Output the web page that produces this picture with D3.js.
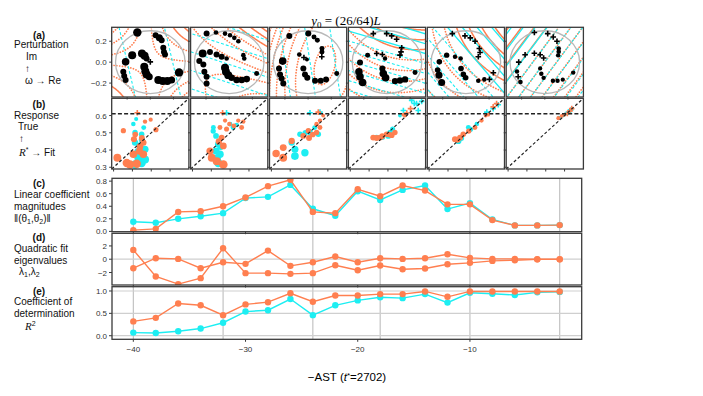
<!DOCTYPE html>
<html><head><meta charset="utf-8">
<script src="https://cdn.jsdelivr.net/npm/d3@7"></script>
<style>body{margin:0;background:#fff}svg{display:block}text{font-family:"Liberation Sans",Arial,sans-serif}</style>
</head><body><svg id="c" width="703" height="396"></svg>
<script>
// ---------------- data ----------------
const times = [-40,-38,-36,-34,-32,-30,-28,-26,-24,-22,-20,-18,-16,-14,-12,-10,-8,-6,-4,-2];
const linNorm  = [0.154,0.138,0.20,0.24,0.29,0.53,0.55,0.74,0.36,0.25,0.64,0.50,0.66,0.73,0.355,0.45,0.19,0.095,0.095,0.10];
const quadNorm = [0.02,0.04,0.31,0.32,0.40,0.54,0.72,0.82,0.31,0.29,0.67,0.56,0.73,0.65,0.43,0.43,0.18,0.095,0.095,0.10];
const eigA = [1.4,-2.6,-3.75,-2.85,1.65,-2.1,-2.1,-2.2,-2.1,-0.9,-1.65,-0.95,-1.5,-1.4,-0.75,-0.55,-0.25,-0.15,-0.02,-0.02];
const eigB = [-1.35,0.15,0.05,-1.35,-0.45,-0.7,1.3,-1.0,-0.45,0.4,-0.45,0.15,0.05,0.15,0.75,0.2,0.05,0.05,0,0];
const linR2  = [0.07,0.06,0.10,0.16,0.29,0.54,0.57,0.82,0.46,0.68,0.79,0.86,0.84,0.93,0.74,0.96,0.94,0.91,0.97,0.98];
const quadR2 = [0.32,0.40,0.72,0.68,0.46,0.70,0.75,0.95,0.76,0.90,0.90,0.93,0.93,0.99,0.87,0.99,0.99,0.99,0.99,0.99];
const gridTimes = [-40,-32,-24,-18,-10,-2];
const panelTimes = [-40,-32,-24,-18,-10,-2];
const R_STAR = 0.61;

// fit models shown as contours in row (a)
const linAngle = [12,70,8,72,38,146];
const linStep  = [0.059,0.048,0.077,0.045,0.045,0.0085];
const linBase  = [0.522,0.472,0.450,0.52,0.574,0.593];
const quadGradAngle = [45,65,-12,72,38,146];
const quadEigAngle  = [45,45,-12,-18,-52,146];
const quadStep = [0.045,0.06,0.05,0.06,0.05,0.0085];
const quadBase = [0.51,0.41,0.545,0.52,0.574,0.593];

// perturbations [Re, Im, true response]
const pert = [
 [[-0.112,0.283,0.324],[0.046,0.257,0.467],[0.078,0.232,0.407],[0.098,0.21,0.467],[0.112,0.137,0.467],[0.118,0.098,0.467],[0.127,0.073,0.467],[-0.156,0.067,0.348],[-0.072,0.083,0.348],[-0.049,0.06,0.348],[-0.032,0.035,0.467],[0,0.003,0.616],[-0.213,0.003,0.372],[-0.233,-0.092,0.467],[-0.225,-0.133,0.467],[-0.213,-0.171,0.467],[-0.052,-0.044,0.348],[-0.043,-0.086,0.348],[-0.032,-0.117,0.348],[-0.009,-0.14,0.407],[0.069,-0.171,0.348],[0.107,-0.181,0.348],[0.147,-0.181,0.348],[0.184,-0.171,0.407],[0.248,-0.098,0.324]],
 [[-0.195,0.273,0.467],[-0.114,0.283,0.55],[-0.036,0.273,0.55],[0.007,0.257,0.55],[0.044,0.232,0.55],[0.079,0.2,0.55],[0.122,0.067,0.55],[0.13,0.035,0.55],[-0.229,0.083,0.348],[-0.166,0.098,0.467],[-0.109,0.073,0.467],[-0.065,0.051,0.467],[-0.022,0.035,0.55],[-0.258,0.01,0.467],[-0.223,-0.022,0.467],[-0.214,-0.092,0.467],[-0.195,-0.14,0.467],[-0.195,-0.203,0.467],[-0.036,-0.054,0.348],[-0.028,-0.092,0.348],[-0.008,-0.124,0.348],[0.021,-0.149,0.431],[0.064,-0.171,0.431],[0.108,-0.171,0.431],[0.151,-0.162,0.431],[0.237,-0.108,0.527]],
 [[-0.162,0.251,0.467],[0.002,0.273,0.467],[0.051,0.241,0.527],[0.08,0.21,0.527],[0.12,0.13,0.527],[0.12,0.098,0.527],[0.118,0.051,0.62],[-0.076,0.073,0.55],[-0.036,0.044,0.62],[-0.01,0.025,0.587],[-0.219,0.01,0.372],[-0.251,-0.06,0.467],[-0.242,-0.117,0.467],[-0.228,-0.156,0.467],[-0.214,-0.203,0.467],[-0.041,-0.06,0.467],[-0.027,-0.117,0.467],[-0.007,-0.149,0.467],[0.06,-0.178,0.467],[0.109,-0.178,0.467],[0.155,-0.165,0.467],[0.247,-0.108,0.527]],
 [[-0.118,0.273,0.65],[-0.003,0.273,0.65],[0.04,0.251,0.65],[0.083,0.219,0.65],[0.127,0.137,0.65],[0.121,0.098,0.65],[0.112,0.067,0.65],[-0.167,0.067,0.527],[-0.089,0.083,0.63],[-0.04,0.073,0.63],[-0.017,0.035,0.562],[-0.233,-0.003,0.467],[-0.242,-0.092,0.372],[-0.233,-0.14,0.372],[-0.21,-0.194,0.372],[-0.04,-0.06,0.467],[-0.032,-0.108,0.372],[-0.012,-0.149,0.372],[0.069,-0.181,0.443],[0.112,-0.175,0.443],[0.156,-0.165,0.443],[0.242,-0.098,0.527]],
 [[-0.117,0.273,0.65],[-0.008,0.251,0.65],[0.038,0.232,0.65],[0.079,0.2,0.65],[0.116,0.13,0.65],[0.122,0.092,0.65],[0.107,0.051,0.65],[-0.166,0.067,0.503],[-0.094,0.051,0.562],[-0.045,0.035,0.562],[-0.229,0.003,0.491],[-0.244,-0.076,0.491],[-0.232,-0.124,0.407],[-0.209,-0.194,0.407],[-0.042,-0.06,0.491],[-0.022,-0.117,0.491],[-0.002,-0.149,0.491],[0.107,-0.178,0.55],[0.159,-0.165,0.55],[0.203,-0.165,0.62],[0.237,-0.102,0.62]],
 [[-0.09,0.283,0.63],[0.025,0.273,0.63],[0.073,0.241,0.63],[0.105,0.2,0.63],[0.12,0.13,0.55],[0.12,0.1,0.55],[0.115,0.065,0.56],[-0.17,0.07,0.63],[-0.09,0.085,0.63],[-0.04,0.07,0.63],[-0.01,0.04,0.63],[-0.225,0.0,0.63],[-0.24,-0.09,0.56],[-0.23,-0.14,0.63],[-0.21,-0.19,0.55],[-0.04,-0.06,0.57],[-0.03,-0.11,0.56],[-0.01,-0.15,0.56],[0.07,-0.178,0.56],[0.11,-0.178,0.56],[0.155,-0.168,0.57],[0.245,-0.1,0.56]]
];

// row (b): [fit, true]
const bLin = [
 [[0.405,0.551],[0.414,0.502],[0.449,0.492],[0.414,0.443],[0.44,0.424],[0.467,0.404],[0.431,0.355],[0.449,0.325],[0.414,0.316],[0.467,0.345],[0.42,0.58],[0.46,0.53],[0.45,0.46],[0.43,0.39]],
 [[0.411,0.531],[0.425,0.482],[0.437,0.433],[0.481,0.616],[0.516,0.531],[0.534,0.545],[0.425,0.394],[0.446,0.375],[0.437,0.325],[0.41,0.51],[0.45,0.42],[0.5,0.55],[0.43,0.35]],
 [[0.505,0.616],[0.558,0.62],[0.452,0.492],[0.505,0.502],[0.549,0.492],[0.425,0.404],[0.425,0.365],[0.478,0.384],[0.408,0.443],[0.48,0.5],[0.53,0.53],[0.5,0.51]],
 [[0.44,0.472],[0.502,0.482],[0.525,0.522],[0.564,0.6],[0.626,0.688],[0.652,0.669],[0.679,0.682],[0.661,0.629],[0.582,0.629],[0.47,0.475],[0.51,0.5],[0.64,0.67]],
 [[0.455,0.453],[0.508,0.531],[0.553,0.551],[0.606,0.62],[0.667,0.663],[0.47,0.47],[0.52,0.52],[0.64,0.64]],
 [[0.57,0.587],[0.59,0.6],[0.605,0.609],[0.62,0.62],[0.633,0.632]]
];
const bQuad = [
 [[0.352,0.512],[0.467,0.565],[0.497,0.576],[0.525,0.518],[0.408,0.463],[0.458,0.443],[0.437,0.394],[0.458,0.375],[0.405,0.375],[0.32,0.355],[0.37,0.325],[0.387,0.316],[0.423,0.321],[0.426,0.616],[0.44,0.42],[0.45,0.47],[0.415,0.49]],
 [[0.46,0.616],[0.473,0.571],[0.496,0.551],[0.543,0.571],[0.57,0.565],[0.561,0.531],[0.481,0.522],[0.446,0.531],[0.455,0.472],[0.464,0.424],[0.393,0.394],[0.402,0.355],[0.429,0.335],[0.464,0.316],[0.52,0.54],[0.44,0.45]],
 [[0.549,0.62],[0.558,0.571],[0.496,0.512],[0.54,0.502],[0.558,0.531],[0.469,0.482],[0.408,0.453],[0.363,0.414],[0.325,0.38],[0.363,0.355],[0.52,0.49],[0.5,0.47],[0.54,0.55],[0.575,0.6]],
 [[0.422,0.472],[0.458,0.472],[0.493,0.492],[0.52,0.486],[0.537,0.502],[0.582,0.605],[0.6,0.615],[0.62,0.64],[0.47,0.48],[0.44,0.47],[0.505,0.49],[0.59,0.6]],
 [[0.437,0.463],[0.464,0.472],[0.481,0.492],[0.543,0.531],[0.578,0.571],[0.614,0.605],[0.658,0.669],[0.45,0.46],[0.51,0.51],[0.6,0.6],[0.64,0.65]],
 [[0.567,0.585],[0.585,0.598],[0.60,0.605],[0.615,0.612],[0.628,0.626],[0.638,0.64]]
];

// ---------------- drawing ----------------
const ORANGE = "#FF7F50", CYAN = "#1DEEF2", FRAME = "#3a3a3a";
const svg = d3.select("#c");
const defs = svg.append("defs");
const colX = i => 111.7 + i * 78.9, colW = 77.2;
const rowA = [27.3, 97], rowB = [98.3, 169];
const aDom = [-0.333, 0.333], bDom = [0.29, 0.70];
const rScale = d3.scaleLinear().domain([0.30, R_STAR]).range([4.4, 1.8]).clamp(true);
const fmtMinus = d3.format(".1f");

function mark(g, cx, cy, t, color, ps) {
  if (t >= R_STAR) {
    g.append("path").attr("d", `M${cx-ps},${cy}H${cx+ps}M${cx},${cy-ps}V${cy+ps}`)
      .attr("stroke", color).attr("stroke-width", 1.6).attr("fill", "none");
  } else {
    g.append("circle").attr("cx", cx).attr("cy", cy).attr("r", rScale(t)).attr("fill", color);
  }
}

function frame(x0, y0, w, h) {
  svg.append("rect").attr("x", x0).attr("y", y0).attr("width", w).attr("height", h)
    .attr("fill", "none").attr("stroke", FRAME).attr("stroke-width", 1.3);
}

const N = 100, G0 = -0.42, GD = 0.84 / N;
for (let k = 0; k < 6; k++) {
  const ti = times.indexOf(panelTimes[k]);
  const x0 = colX(k);
  const xs = d3.scaleLinear(aDom, [x0, x0 + colW]);
  const ys = d3.scaleLinear(aDom, [rowA[1], rowA[0]]);
  defs.append("clipPath").attr("id", "ca" + k).append("rect")
    .attr("x", x0).attr("y", rowA[0]).attr("width", colW).attr("height", rowA[1] - rowA[0]);
  const g = svg.append("g").attr("clip-path", `url(#ca${k})`);

  // quadratic fit contours (orange)
  const th = quadNorm[ti], ga = quadGradAngle[k] * Math.PI / 180, ea = quadEigAngle[k] * Math.PI / 180;
  const lA = eigA[ti], lB = eigB[ti];
  const q = (x, y) => {
    const u = x * Math.cos(ea) + y * Math.sin(ea), v = -x * Math.sin(ea) + y * Math.cos(ea);
    return quadBase[k] + th * (x * Math.cos(ga) + y * Math.sin(ga)) + 0.5 * (lA * u * u + lB * v * v);
  };
  const vals = new Array(N * N);
  for (let j = 0; j < N; j++) for (let i = 0; i < N; i++)
    vals[j * N + i] = q(G0 + (i + 0.5) * GD, -G0 - (j + 0.5) * GD);
  const [mn, mx] = d3.extent(vals);
  const st = quadStep[k];
  const levels = [];
  for (let m = Math.ceil((mn - R_STAR) / st); m <= Math.floor((mx - R_STAR) / st); m++) levels.push(R_STAR + m * st + 1e-6);
  const tr = d3.geoTransform({point: function(px, py) { this.stream.point(xs(G0 + px * GD), ys(-G0 - py * GD)); }});
  const path = d3.geoPath(tr);
  const conts = d3.contours().size([N, N]).thresholds(levels)(vals);
  conts.forEach(c => {
    const solid = c.value >= R_STAR;
    g.append("path").attr("d", path(c)).attr("fill", "none").attr("stroke", ORANGE)
      .attr("stroke-width", solid ? 1.5 : 1.7).attr("stroke-linecap", "round")
      .attr("stroke-dasharray", solid ? null : "0.1,2.7");
  });

  // linear fit contours (cyan)
  const lt = linNorm[ti], la = linAngle[k] * Math.PI / 180;
  const nx = Math.cos(la), ny = Math.sin(la), ls = linStep[k];
  for (let m = -40; m <= 40; m++) {
    const lev = R_STAR + m * ls;
    const off = (lev - linBase[k]) / lt;
    if (Math.abs(off) > 0.5) continue;
    const px = off * nx, py = off * ny;
    g.append("line")
      .attr("x1", xs(px - ny)).attr("y1", ys(py + nx))
      .attr("x2", xs(px + ny)).attr("y2", ys(py - nx))
      .attr("stroke", CYAN).attr("stroke-width", m >= 0 ? 1.3 : 1.1)
      .attr("stroke-dasharray", m >= 0 ? null : "3,2");
  }

  g.append("ellipse").attr("cx", xs(0)).attr("cy", ys(0))
    .attr("rx", xs(0.3) - xs(0)).attr("ry", ys(0) - ys(0.3))
    .attr("fill", "none").attr("stroke", "#b8b8b8").attr("stroke-width", 1.3);

  pert[k].forEach(p => mark(g, xs(p[0]), ys(p[1]), p[2], "#000", 2.8));

  frame(x0, rowA[0], colW, rowA[1] - rowA[0]);
  [-0.2, 0, 0.2].forEach(v => {
    svg.append("line").attr("x1", xs(v)).attr("x2", xs(v)).attr("y1", rowA[1]).attr("y2", rowA[1] + 2.5).attr("stroke", FRAME);
    svg.append("line").attr("x1", x0).attr("x2", x0 - 2.5).attr("y1", ys(v)).attr("y2", ys(v)).attr("stroke", FRAME);
    if (k === 0) svg.append("text").attr("x", x0 - 5).attr("y", ys(v) + 3).attr("text-anchor", "end")
      .attr("font-size", 8).attr("fill", "#333").text(fmtMinus(v));
  });

  // row (b)
  const bx = d3.scaleLinear(bDom, [x0, x0 + colW]);
  const by = d3.scaleLinear(bDom, [rowB[1], rowB[0]]);
  defs.append("clipPath").attr("id", "cb" + k).append("rect")
    .attr("x", x0).attr("y", rowB[0]).attr("width", colW).attr("height", rowB[1] - rowB[0]);
  const gb = svg.append("g").attr("clip-path", `url(#cb${k})`);
  bLin[k].forEach(p => mark(gb, bx(p[0]), by(p[1]), p[1], CYAN, 2.8));
  bQuad[k].forEach(p => mark(gb, bx(p[0]), by(p[1]), p[1], ORANGE, 2.8));
  gb.append("line").attr("x1", bx(bDom[0])).attr("y1", by(bDom[0])).attr("x2", bx(bDom[1])).attr("y2", by(bDom[1]))
    .attr("stroke", "#222").attr("stroke-width", 1.2).attr("stroke-dasharray", "3,2.2");
  gb.append("line").attr("x1", x0).attr("x2", x0 + colW).attr("y1", by(R_STAR)).attr("y2", by(R_STAR))
    .attr("stroke", "#222").attr("stroke-width", 1.4).attr("stroke-dasharray", "4,2.2");
  frame(x0, rowB[0], colW, rowB[1] - rowB[0]);
  [0.3, 0.4, 0.5, 0.6].forEach(v => {
    svg.append("line").attr("x1", bx(v)).attr("x2", bx(v)).attr("y1", rowB[1]).attr("y2", rowB[1] + 2.5).attr("stroke", FRAME);
    svg.append("line").attr("x1", x0).attr("x2", x0 - 2.5).attr("y1", by(v)).attr("y2", by(v)).attr("stroke", FRAME);
    if (k === 0) svg.append("text").attr("x", x0 - 5).attr("y", by(v) + 3).attr("text-anchor", "end")
      .attr("font-size", 8).attr("fill", "#333").text(fmtMinus(v));
  });
}

// ---------------- line panels ----------------
const xL = d3.scaleLinear([-41.9, -0.04], [112, 581.7]);
const rows = [
  {top: 178.3, bot: 231.7, dom: [-0.005, 0.845], ticks: [0, 0.2, 0.4, 0.6, 0.8], fmt: d3.format(".1f"), h: [],
   series: [[linNorm, CYAN], [quadNorm, ORANGE]]},
  {top: 233.3, bot: 285, dom: [-3.88, 3.9], ticks: [-2, 0, 2], fmt: d3.format("d"), h: [0],
   series: [[eigA, ORANGE], [eigB, ORANGE]]},
  {top: 286.7, bot: 339.3, dom: [-0.08, 1.096], ticks: [0, 0.5, 1.0], fmt: d3.format(".1f"), h: [0, 0.5, 1.0],
   series: [[linR2, CYAN], [quadR2, ORANGE]]}
];
rows.forEach((r, ri) => {
  const y = d3.scaleLinear(r.dom, [r.bot, r.top]);
  defs.append("clipPath").attr("id", "cl" + ri).append("rect")
    .attr("x", 112).attr("y", r.top).attr("width", 581.7 - 112).attr("height", r.bot - r.top);
  const g = svg.append("g").attr("clip-path", `url(#cl${ri})`);
  gridTimes.forEach(t => g.append("line").attr("x1", xL(t)).attr("x2", xL(t)).attr("y1", r.top).attr("y2", r.bot)
    .attr("stroke", "#bdbdbd").attr("stroke-width", 1.1));
  r.h.forEach(v => g.append("line").attr("x1", 112).attr("x2", 581.7).attr("y1", y(v)).attr("y2", y(v))
    .attr("stroke", "#cfcfcf").attr("stroke-width", 1.2));
  r.series.forEach(([vals, col]) => {
    g.append("path").attr("d", d3.line().x((d, i) => xL(times[i])).y(d => y(d))(vals))
      .attr("fill", "none").attr("stroke", col).attr("stroke-width", 1.4);
    vals.forEach((v, i) => g.append("circle").attr("cx", xL(times[i])).attr("cy", y(v)).attr("r", 3.2).attr("fill", col));
  });
  frame(112, r.top, 581.7 - 112, r.bot - r.top);
  r.ticks.forEach(v => {
    svg.append("line").attr("x1", 112).attr("x2", 109).attr("y1", y(v)).attr("y2", y(v)).attr("stroke", FRAME);
    svg.append("text").attr("x", 107).attr("y", y(v) + 3).attr("text-anchor", "end")
      .attr("font-size", 8).attr("fill", "#333").text(r.fmt(v));
  });
  [-40, -30, -20, -10].forEach(t => {
    svg.append("line").attr("x1", xL(t)).attr("x2", xL(t)).attr("y1", r.bot).attr("y2", r.bot + 2.5).attr("stroke", FRAME);
    if (ri === 2) svg.append("text").attr("x", xL(t)).attr("y", 352).attr("text-anchor", "middle")
      .attr("font-size", 8).attr("fill", "#333").text(d3.format("d")(t));
  });
});

// ---------------- texts ----------------
const title = svg.append("text").attr("x", 346).attr("y", 25).attr("text-anchor", "middle")
  .attr("font-size", 13).style("font-family", "'Liberation Serif',serif");
title.append("tspan").attr("font-style", "italic").text("y");
title.append("tspan").attr("font-size", 9).attr("dy", 3).text("0");
title.append("tspan").attr("dy", -3).text(" = (26/64)");
title.append("tspan").attr("font-style", "italic").text("L");

const xt = svg.append("text").attr("x", 347).attr("y", 381).attr("text-anchor", "middle").attr("font-size", 11.5);
xt.append("tspan").text("\u2212AST (");
xt.append("tspan").attr("font-style", "italic").text("t");
xt.append("tspan").attr("font-size", 8).attr("dy", -3).text("*");
xt.append("tspan").attr("dy", 3).text("=2702)");

function lab(x, y, parts, opts = {}) {
  const t = svg.append("text").attr("x", x).attr("y", y).attr("font-size", opts.fs || 10).attr("fill", "#111");
  if (opts.anchor) t.attr("text-anchor", opts.anchor);
  if (opts.bold) t.attr("font-weight", "bold");
  parts.forEach(p => {
    if (typeof p === "string") t.append("tspan").text(p);
    else {
      const s = t.append("tspan").text(p.t);
      if (p.it) s.attr("font-style", "italic").style("font-family", "'Liberation Serif',serif");
      if (p.dy) s.attr("dy", p.dy);
      if (p.fs) s.attr("font-size", p.fs);
    }
  });
  return t;
}
lab(39, 38.5, ["(a)"], {anchor: "middle", bold: true});
lab(14, 48, ["Perturbation"]);
lab(26, 60, ["Im"]);
lab(25, 71.5, ["\u2191"]);
lab(25, 84, ["\u03c9 \u2192 Re"]);

lab(39, 107.5, ["(b)"], {anchor: "middle", bold: true});
lab(14, 118.5, ["Response"]);
lab(18, 130, ["True"]);
lab(19, 142, ["\u2191"]);
lab(19, 156, [{t: "R", it: true, fs: 11}, {t: "*", fs: 7, dy: -4}, {t: " \u2192 Fit", dy: 4}]);

lab(39, 186.5, ["(c)"], {anchor: "middle", bold: true});
lab(14, 198, ["Linear coefficient"]);
lab(14, 209.5, ["magnitudes"]);
lab(14, 221.5, ["\u2016(\u03b8", {t: "1", fs: 7, dy: 2}, {t: ",\u03b8", dy: -2}, {t: "2", fs: 7, dy: 2}, {t: ")\u2016", dy: -2}]);

lab(39, 241, ["(d)"], {anchor: "middle", bold: true});
lab(14, 252, ["Quadratic fit"]);
lab(14, 264, ["eigenvalues"]);
lab(19, 274.5, ["\u03bb", {t: "1", fs: 7, dy: 2}, {t: ",\u03bb", dy: -2}, {t: "2", fs: 7, dy: 2}]);

lab(39, 295, ["(e)"], {anchor: "middle", bold: true});
lab(14, 304.5, ["Coefficient of"]);
lab(14, 316.5, ["determination"]);
lab(25, 330, [{t: "R", it: true, fs: 11}, {t: "2", fs: 7, dy: -4}]);
</script></body></html>
